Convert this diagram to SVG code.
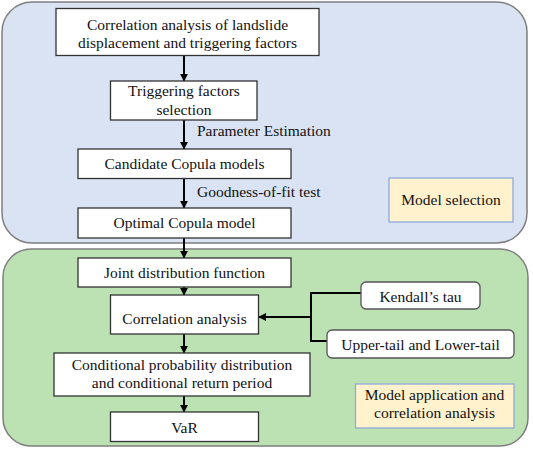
<svg xmlns="http://www.w3.org/2000/svg" width="533" height="449" viewBox="0 0 533 449">
<style>
text{font-family:"Times New Roman","Liberation Serif","DejaVu Serif",serif;font-size:15.5px;fill:#111;text-anchor:middle}
.box{fill:#fff;stroke:#333;stroke-width:1.3}
.rbox{fill:#fff;stroke:#555;stroke-width:1.3}
.note{fill:#fff2cc;stroke:#8faadc;stroke-width:1.3}
.lab{text-anchor:start}
.c{fill:none;stroke:#000;stroke-width:2}
</style>
<defs>
<marker id="ah" viewBox="0 0 10 10" refX="9" refY="5" markerWidth="4" markerHeight="4" orient="auto" markerUnits="strokeWidth">
<path d="M0,0 L10,5 L0,10 z" fill="#000"/>
</marker>
</defs>
<g id="region-selection"><rect x="2" y="2" width="525" height="241" rx="30" fill="#d9e3f3" stroke="#7f7f7f" stroke-width="1.5"/></g>
<g id="region-application"><rect x="3" y="249" width="525" height="197" rx="28" fill="#bce1b3" stroke="#7f7f7f" stroke-width="1.5"/></g>

<g id="connectors">
<line class="c" x1="184" y1="55" x2="184" y2="81" marker-end="url(#ah)"/>
<line class="c" x1="184" y1="120" x2="184" y2="149" marker-end="url(#ah)"/>
<line class="c" x1="184" y1="179" x2="184" y2="208" marker-end="url(#ah)"/>
<line class="c" x1="184" y1="238" x2="184" y2="258" marker-end="url(#ah)"/>
<line class="c" x1="184" y1="287" x2="184" y2="295" marker-end="url(#ah)"/>
<line class="c" x1="184" y1="334" x2="184" y2="353" marker-end="url(#ah)"/>
<line class="c" x1="184" y1="396" x2="184" y2="412" marker-end="url(#ah)"/>
<polyline class="c" points="361,293 311,293 311,341 327,341"/>
<line class="c" x1="311" y1="317" x2="259" y2="317" marker-end="url(#ah)"/>
</g>

<g id="n1"><rect class="box" x="56" y="8.5" width="263" height="47"/>
<text x="187.5" y="29.5">Correlation analysis of landslide</text>
<text x="187.5" y="47.5">displacement and triggering  factors</text></g>
<g id="n2"><rect class="box" x="110.5" y="81" width="146.5" height="39"/>
<text x="184" y="96">Triggering  factors</text>
<text x="184" y="114.5">selection</text></g>
<text class="lab" x="197" y="135.5">Parameter Estimation</text>
<g id="n3"><rect class="box" x="78" y="149" width="213" height="29.5"/>
<text x="184.5" y="169">Candidate Copula models</text></g>
<text class="lab" x="197" y="196.5">Goodness-of-fit test</text>
<g id="n4"><rect class="box" x="78" y="208" width="213" height="30"/>
<text x="184.5" y="228">Optimal Copula model</text></g>
<g id="model-selection"><rect class="note" x="389" y="178" width="124" height="44"/>
<text x="451" y="205">Model selection</text></g>

<g id="n5"><rect class="box" x="78" y="258" width="213" height="29"/>
<text x="184.5" y="277.5">Joint distribution function</text></g>
<g id="n6"><rect class="box" x="110.5" y="295" width="148" height="39"/>
<text x="184.5" y="324">Correlation analysis</text></g>
<g id="n7"><rect class="box" x="54" y="353" width="256" height="43"/>
<text x="182" y="369.5">Conditional probability  distribution</text>
<text x="182" y="388">and conditional return period</text></g>
<g id="n8"><rect class="box" x="110.5" y="412" width="148" height="29.5"/>
<text x="184.5" y="432.5">VaR</text></g>
<g id="n9"><rect class="rbox" x="361" y="282" width="119" height="27" rx="5"/>
<text x="420.5" y="301.5">Kendall’s tau</text></g>
<g id="n10"><rect class="rbox" x="327" y="330" width="187" height="28" rx="5"/>
<text x="420.5" y="350">Upper-tail and Lower-tail</text></g>
<g id="model-application"><rect class="note" x="355.5" y="384" width="158.5" height="44"/>
<text x="434.5" y="400">Model application and</text>
<text x="434.5" y="418">correlation analysis</text></g>
</svg>
